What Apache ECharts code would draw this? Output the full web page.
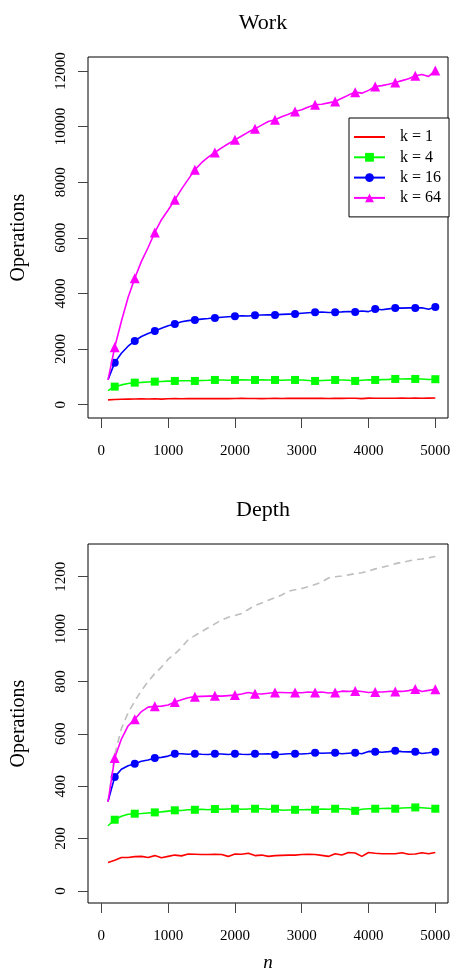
<!DOCTYPE html>
<html>
<head>
<meta charset="utf-8">
<script src="https://cdn.jsdelivr.net/npm/echarts@6/dist/echarts.min.js"></script>
<style>
  html, body { margin: 0; padding: 0; background: #fff; }
  #chart { width: 452px; height: 973px; }
</style>
</head>
<body>
<div id="chart"></div>
<script>
// problem size n (every line has a point at each n, markers every 300 from 200)
var nValues = [100, 200, 300, 400, 500, 600, 700, 800, 900, 1000,
  1100, 1200, 1300, 1400, 1500, 1600, 1700, 1800, 1900, 2000,
  2100, 2200, 2300, 2400, 2500, 2600, 2700, 2800, 2900, 3000,
  3100, 3200, 3300, 3400, 3500, 3600, 3700, 3800, 3900, 4000,
  4100, 4200, 4300, 4400, 4500, 4600, 4700, 4800, 4900, 5000];
var markerN = [200, 500, 800, 1100, 1400, 1700, 2000, 2300, 2600, 2900,
  3200, 3500, 3800, 4100, 4400, 4700, 5000];

var kNames = ['k = 1', 'k = 4', 'k = 16', 'k = 64'];
var xTicks = [0, 1000, 2000, 3000, 4000, 5000];
var workTicks = [0, 2000, 4000, 6000, 8000, 10000, 12000];
var depthTicks = [0, 200, 400, 600, 800, 1000, 1200];

// Work panel
var workK1 = [170, 185, 195, 200, 205, 208, 205, 210, 200, 212,
  215, 212, 218, 215, 218, 220, 218, 220, 215, 222,
  225, 220, 222, 218, 222, 225, 222, 225, 224, 226,
  228, 225, 228, 222, 230, 226, 232, 228, 215, 235,
  232, 230, 232, 228, 233, 230, 235, 232, 236, 240];
var workK4 = [504, 648, 710, 760, 791, 800, 815, 827, 835, 845,
  852, 858, 862, 852, 868, 875, 888, 885, 880, 888,
  890, 885, 888, 892, 885, 888, 880, 885, 888, 885,
  870, 852, 870, 880, 888, 885, 878, 852, 880, 895,
  888, 900, 910, 924, 920, 925, 924, 920, 905, 915];
var workK16 = [900, 1511, 1850, 2100, 2291, 2450, 2560, 2651, 2750, 2840,
  2903, 2980, 3020, 3047, 3075, 3095, 3119, 3140, 3160, 3180,
  3195, 3190, 3216, 3225, 3230, 3227, 3245, 3255, 3263, 3285,
  3305, 3324, 3330, 3315, 3324, 3335, 3350, 3335, 3370, 3345,
  3442, 3410, 3445, 3478, 3470, 3480, 3478, 3485, 3430, 3514];
var workK64 = [890, 2065, 3000, 3850, 4547, 5150, 5650, 6190, 6650, 7000,
  7363, 7750, 8100, 8442, 8700, 8900, 9065, 9230, 9380, 9522,
  9660, 9800, 9917, 10050, 10180, 10241, 10350, 10440, 10540, 10600,
  10700, 10781, 10800, 10850, 10900, 11020, 11130, 11237, 11200, 11300,
  11439, 11470, 11520, 11583, 11650, 11720, 11824, 11870, 11800, 12014];

// Depth panel
var depthK1 = [109, 117, 128, 128, 131, 132, 128, 135, 127, 132,
  137, 134, 141, 140, 139, 139, 140, 139, 132, 141,
  140, 144, 135, 137, 132, 135, 136, 137, 137, 139,
  140, 139, 136, 132, 142, 137, 147, 145, 132, 147,
  144, 142, 142, 142, 146, 140, 141, 146, 142, 147];
var depthK4 = [249, 272, 285, 293, 295, 296, 298, 300, 302, 305,
  308, 307, 310, 310, 312, 310, 313, 312, 313, 314,
  312, 313, 314, 314, 312, 314, 308, 309, 310, 310,
  311, 310, 313, 312, 314, 314, 313, 306, 312, 314,
  314, 315, 316, 314, 317, 318, 319, 318, 316, 314];
var depthK16 = [342, 435, 465, 478, 486, 495, 500, 508, 510, 515,
  524, 524, 522, 524, 522, 521, 524, 523, 521, 524,
  522, 521, 524, 523, 524, 520, 522, 524, 524, 523,
  525, 528, 526, 527, 528, 524, 526, 528, 524, 533,
  532, 530, 532, 535, 532, 531, 532, 525, 528, 532];
var depthK64 = [340, 508, 580, 630, 656, 685, 702, 705, 706, 710,
  722, 730, 738, 742, 743, 744, 745, 744, 746, 748,
  752, 758, 753, 752, 755, 758, 758, 757, 758, 757,
  760, 758, 760, 756, 758, 763, 762, 764, 762, 758,
  760, 760, 762, 762, 762, 765, 771, 762, 766, 770];
var depthBound = [340, 520, 620, 680, 725, 765, 800, 830, 855, 885,
  905, 930, 960, 975, 990, 1005, 1020, 1035, 1045, 1052,
  1060, 1075, 1090, 1100, 1110, 1120, 1130, 1145, 1150, 1155,
  1162, 1170, 1180, 1195, 1200, 1203, 1207, 1212, 1215, 1222,
  1230, 1236, 1242, 1250, 1255, 1260, 1265, 1268, 1272, 1277];

var colors = ['#ff0000', '#00ff00', '#0000ff', '#ff00ff'];
var symbols = ['none', 'rect', 'circle', 'triangle'];
var symbolSizes = [0, 8, 8, 10];
var FONT = '"Liberation Serif", "DejaVu Serif", serif';

function plain(v) { return String(v); }

function lineSeries(name, values, i, idx) {
  var data = nValues.map(function (n, j) {
    var item = { value: [n, values[j]] };
    if (markerN.indexOf(n) < 0) item.symbol = 'none';
    return item;
  });
  return {
    name: name,
    type: 'line',
    xAxisIndex: idx,
    yAxisIndex: idx,
    data: data,
    symbol: symbols[i],
    symbolSize: symbolSizes[i],
    showSymbol: symbols[i] !== 'none',
    showAllSymbol: true,
    color: colors[i],
    lineStyle: { color: colors[i], width: 1.6 },
    itemStyle: { color: colors[i] },
    emphasis: { disabled: true },
    z: 2 + i
  };
}

function xAxis(idx, name) {
  return {
    type: 'value',
    gridIndex: idx,
    min: -200,
    max: 5190,
    name: name,
    nameLocation: 'middle',
    nameGap: 50,
    nameTextStyle: { fontFamily: FONT, fontStyle: 'italic', fontSize: 19, color: '#000' },
    splitLine: { show: false },
    axisLine: { show: false, onZero: false },
    axisTick: { show: true, inside: false, length: 10, customValues: xTicks, lineStyle: { color: '#444' } },
    axisLabel: { customValues: xTicks, formatter: plain, margin: 26, fontFamily: FONT, fontSize: 15, color: '#000' }
  };
}

function yAxis(idx, min, max, ticks) {
  return {
    type: 'value',
    gridIndex: idx,
    min: min,
    max: max,
    name: 'Operations',
    nameLocation: 'middle',
    nameGap: 59,
    nameRotate: 90,
    nameTextStyle: { fontFamily: FONT, fontSize: 20, color: '#000' },
    splitLine: { show: false },
    axisLine: { show: false, onZero: false },
    axisTick: { show: true, inside: false, length: 10, customValues: ticks, lineStyle: { color: '#444' } },
    axisLabel: { customValues: ticks, formatter: plain, rotate: 90, margin: 19, fontFamily: FONT, fontSize: 15, color: '#000' }
  };
}

var series = [];
[workK1, workK4, workK16, workK64].forEach(function (v, i) {
  series.push(lineSeries(kNames[i], v, i, 0));
});
[depthK1, depthK4, depthK16, depthK64].forEach(function (v, i) {
  series.push(lineSeries(kNames[i], v, i, 1));
});
series.push({
  name: 'bound',
  type: 'line',
  xAxisIndex: 1,
  yAxisIndex: 1,
  data: nValues.map(function (n, j) { return [n, depthBound[j]]; }),
  symbol: 'none',
  lineStyle: { color: '#bebebe', width: 1.6, type: [7, 5] },
  emphasis: { disabled: true },
  z: 1
});

// k = 1 has no marker: keep only the line in its legend entry
var legendData = kNames.map(function (name, i) {
  return i === 0 ? { name: name, itemStyle: { color: 'rgba(0,0,0,0)', borderWidth: 0 } } : { name: name };
});

var chart = echarts.init(document.getElementById('chart'), null, { renderer: 'canvas' });
chart.setOption({
  animation: false,
  backgroundColor: '#fff',
  title: [
    { text: 'Work', left: 258, top: 7, textAlign: 'center',
      textStyle: { fontFamily: FONT, fontSize: 22, fontWeight: 'normal', color: '#000' } },
    { text: 'Depth', left: 258, top: 494, textAlign: 'center',
      textStyle: { fontFamily: FONT, fontSize: 22, fontWeight: 'normal', color: '#000' } }
  ],
  legend: {
    data: legendData,
    orient: 'vertical',
    left: 349,
    top: 118,
    padding: [9, 8, 9, 4],
    itemWidth: 31,
    itemHeight: 11,
    itemGap: 0.3,
    borderColor: '#000',
    borderWidth: 1,
    backgroundColor: '#fff',
    textStyle: { fontFamily: FONT, fontSize: 16, lineHeight: 20, color: '#000', padding: [0, 0, 0, 10] }
  },
  grid: [
    { left: 88, top: 57, width: 360, height: 361, outerBoundsMode: 'none', show: true, borderColor: '#000', borderWidth: 1, backgroundColor: 'transparent' },
    { left: 88, top: 544, width: 360, height: 359, outerBoundsMode: 'none', show: true, borderColor: '#000', borderWidth: 1, backgroundColor: 'transparent' }
  ],
  xAxis: [xAxis(0, ''), xAxis(1, 'n')],
  yAxis: [yAxis(0, -480, 12500, workTicks), yAxis(1, -46, 1325, depthTicks)],
  series: series
});
</script>
</body>
</html>
